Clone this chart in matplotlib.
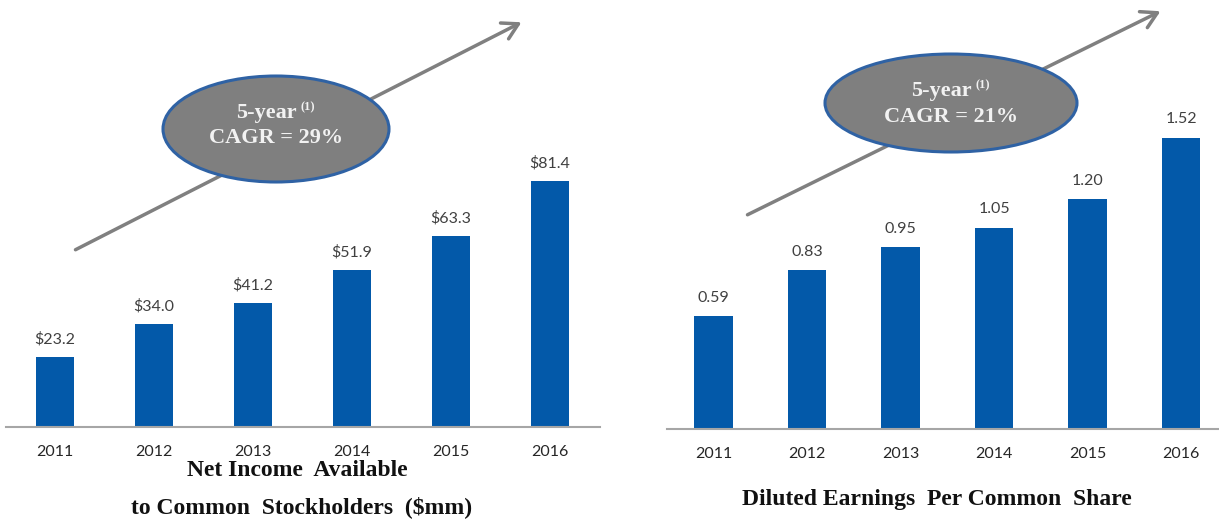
import matplotlib
matplotlib.use("Agg")
import matplotlib.pyplot as plt
from matplotlib.patches import Ellipse, FancyArrowPatch

years = ["2011", "2012", "2013", "2014", "2015", "2016"]
net_income = [23.2, 34.0, 41.2, 51.9, 63.3, 81.4]
diluted_eps = [0.59, 0.83, 0.95, 1.05, 1.20, 1.52]
income_labels = ["$%.1f" % v for v in net_income]
eps_labels = ["%.2f" % v for v in diluted_eps]

W, H = 1219, 523
BLUE = "#0359A9"
GREY = "#808080"
SANS = "Lato"
SERIF = "Liberation Serif"

fig = plt.figure(figsize=(W / 100, H / 100), dpi=100)


def px_axes(x0, x1, y_base):
    # axes rectangle given in pixel units, top of the axes at the figure top
    return fig.add_axes([x0 / W, (H - y_base) / H, (x1 - x0) / W, y_base / H])


def bar_panel(ax, values, labels, width, ymax, offset):
    x = range(len(values))
    ax.bar(x, values, width=width, color=BLUE, zorder=2)
    for i, (v, s) in enumerate(zip(values, labels)):
        ax.text(i, v + offset, s, ha="center", va="bottom", fontsize=11.5,
                family=SANS, color="#404040")
    ax.set_xlim(-0.5, len(values) - 0.5)
    ax.set_ylim(0, ymax)
    ax.set_xticks(list(x))
    ax.set_xticklabels(years, family=SANS, fontsize=11.5, color="#262626")
    ax.tick_params(axis="x", length=0, pad=13)
    ax.set_yticks([])
    for side in ["top", "left", "right"]:
        ax.spines[side].set_visible(False)
    ax.spines["bottom"].set_color("#a6a6a6")
    ax.spines["bottom"].set_linewidth(1.5)
    ax.patch.set_alpha(0)


ax1 = px_axes(5.5, 599.5, 427)
bar_panel(ax1, net_income, income_labels, 0.38, 427 / 3.02, 3.5)

ax2 = px_axes(666.7, 1228, 429)
bar_panel(ax2, diluted_eps, eps_labels, 0.41, 429 / 191.5, 0.06)

# overlay in pixel coordinates for arrows, ovals and captions
ov = fig.add_axes([0, 0, 1, 1], zorder=5)
ov.set_xlim(0, W)
ov.set_ylim(H, 0)
ov.axis("off")
ov.patch.set_alpha(0)


def growth_badge(start, end, center, size, cagr, l1, l2):
    ov.add_patch(FancyArrowPatch(start, end, arrowstyle="->,head_length=7,head_width=4",
                                 color=GREY, lw=2.5, mutation_scale=1.6, zorder=1))
    ov.add_patch(Ellipse(center, size[0], size[1], facecolor="#7f7f7f",
                         edgecolor="#2f62a4", lw=2.2, zorder=2))
    t1 = ov.text(center[0] - 10, l1, "5-year", ha="center", va="center",
                 family=SERIF, weight="bold", fontsize=16, color="#f2f2f2", zorder=3)
    ov.annotate("(1)", xy=(1, 0.5), xycoords=t1, xytext=(3, 0),
                textcoords="offset points", ha="left", va="bottom",
                family=SERIF, weight="bold", fontsize=9, color="#f2f2f2", zorder=3)
    ov.text(center[0], l2, "CAGR = %d%%" % cagr, ha="center", va="center",
            family=SERIF, weight="bold", fontsize=16, color="#f2f2f2", zorder=3)


growth_badge((73, 251), (524, 21), (276, 129), (226, 106), 29, 113, 138)
growth_badge((745, 216), (1163, 10), (951, 103), (252, 98), 21, 91, 117)

cap = dict(ha="center", va="center", family=SERIF, weight="bold",
           fontsize=17, color="#111111")
ov.text(297, 471, "Net Income  Available", **cap)
ov.text(302, 507, "to Common  Stockholders  ($mm)", **cap)
ov.text(937, 500, "Diluted Earnings  Per Common  Share", **cap)

fig.savefig("out.png", dpi=100)
